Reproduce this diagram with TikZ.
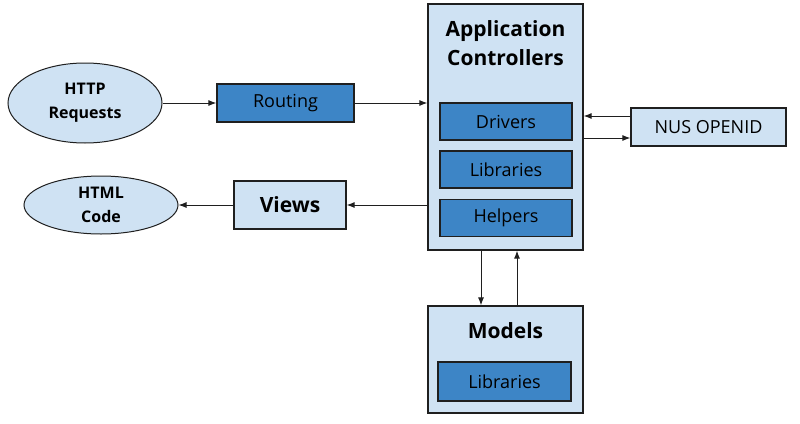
\documentclass[tikz,border=0pt]{standalone}
\usepackage{fontspec}
\setmainfont{Open Sans}
\usetikzlibrary{arrows.meta,shapes.geometric}
\definecolor{lightbox}{HTML}{CFE2F3}
\definecolor{darkbox}{HTML}{3D85C6}
\definecolor{edge}{HTML}{1F1F1F}

\begin{document}
\begin{tikzpicture}[x=1pt, y=-1pt,
    light/.style={draw=edge, fill=lightbox, line width=1.2pt, inner sep=0pt},
    dark/.style={draw=edge, fill=darkbox, line width=1.2pt, inner sep=0pt,
                 font=\fontsize{18}{22}\selectfont},
    blob/.style={draw=edge, fill=lightbox, ellipse, line width=1pt, inner sep=0pt,
                 align=center, font=\bfseries\fontsize{16}{24}\selectfont},
    head/.style={align=center, font=\bfseries\fontsize{21}{29}\selectfont},
    flow/.style={draw=edge, line width=1pt, -{Latex[length=8pt,width=6pt]}}]
    \useasboundingbox (0,0) rectangle (800,423);

    % outer boxes
    \draw
        (85, 103)    node[blob, minimum width=154pt, minimum height=80pt](http){HTTP\\Requests}
        (101, 205)   node[blob, minimum width=154pt, minimum height=58pt](html){HTML\\Code}
        (285.5, 103) node[dark, minimum width=137pt, minimum height=38pt](routing){Routing}
        (290, 205)   node[light, minimum width=112pt, minimum height=48pt, head](views){Views}
        (505.5, 127) node[light, minimum width=155pt, minimum height=246pt](app){}
        (708.5, 127) node[light, minimum width=155pt, minimum height=38pt,
                          font=\fontsize{18}{22}\selectfont](openid){NUS OPENID}
        (505.5, 359.5) node[light, minimum width=155pt, minimum height=107pt](models){}
    ;
    % titles and inner boxes
    \draw
        (505.5, 43)  node[head](apptitle){Application\\Controllers}
        (506, 121.5) node[dark, minimum width=132pt, minimum height=37pt](drivers){Drivers}
        (506, 169.5) node[dark, minimum width=132pt, minimum height=37pt](ctrllib){Libraries}
        (506, 218)   node[dark, minimum width=132pt, minimum height=37pt](helpers){Helpers}
        (505.5, 331) node[head](modtitle){Models}
        (504.5, 381.5) node[dark, minimum width=133pt, minimum height=39pt](modlib){Libraries}
    ;

    \draw[flow] (http) -- (routing);
    \draw[flow] (routing.east) -- (routing.east -| app.west);
    \draw[flow] ([yshift=11pt]openid.west) -- ([yshift=11pt]openid.west -| app.east);
    \draw[flow] ([yshift=-11pt]openid.west -| app.east) -- ([yshift=-11pt]openid.west);
    \draw[flow] (views.east -| app.west) -- (views.east);
    \draw[flow] (views) -- (html);
    \draw[flow] ([xshift=-24.5pt]app.south) -- ([xshift=-24.5pt]models.north);
    \draw[flow] ([xshift=11.5pt]models.north) -- ([xshift=11.5pt]app.south);

\end{tikzpicture}
\end{document}
